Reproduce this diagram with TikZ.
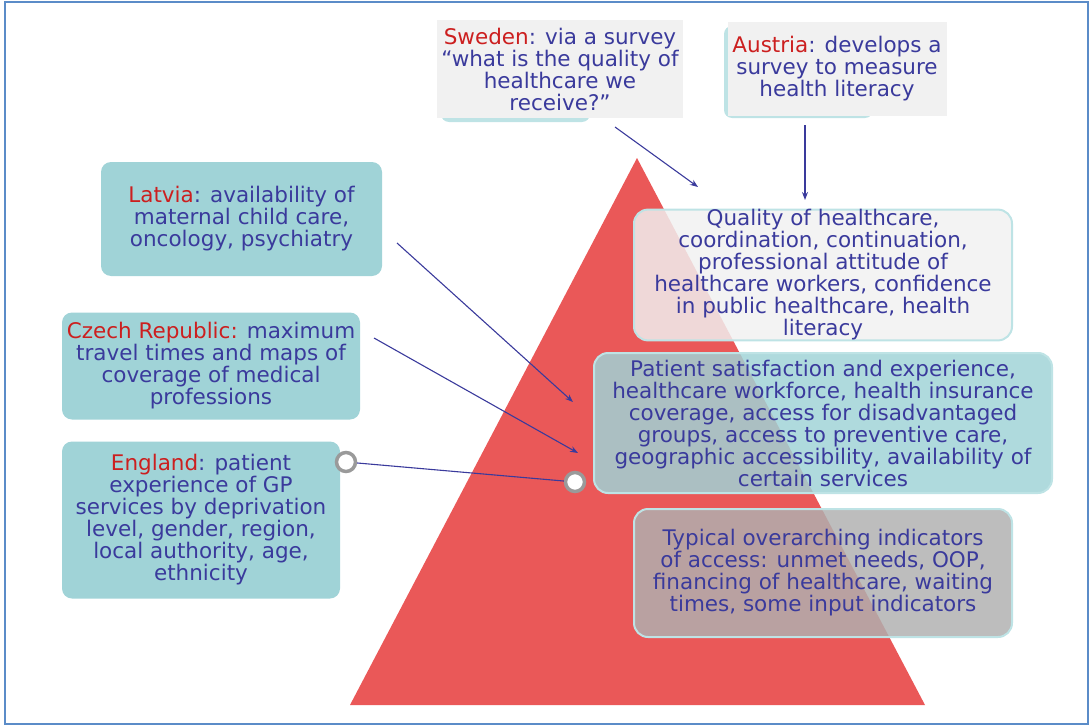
\documentclass[tikz,border=0pt]{standalone}
\usepackage{fontspec}
\setmainfont{DejaVu Sans}
\usetikzlibrary{arrows.meta}
\definecolor{pyrred}{HTML}{EA5858}
\definecolor{boxteal}{HTML}{A0D3D7}
\definecolor{rimteal}{HTML}{BEE3E5}
\definecolor{notegray}{HTML}{F1F1F1}
\definecolor{midgray}{HTML}{B0B0B0}
\definecolor{inkblue}{HTML}{3A3A9C}
\definecolor{cntred}{HTML}{CC1F1F}
\definecolor{framebl}{HTML}{5B8CC8}
\definecolor{ringgray}{HTML}{9A9A9A}

\newcommand{\cty}[1]{\textcolor{cntred}{#1}}

\begin{document}
\begin{tikzpicture}[
    x=1pt, y=-1pt,
    >={Stealth[length=8pt, width=6pt]},
    every node/.style={text=inkblue, font=\fontsize{21.5}{22}\selectfont,
      align=center, inner sep=0pt},
    countrybox/.style={fill=boxteal, rounded corners=10pt},
    notebox/.style={fill=notegray},
    tierbox/.style={draw=rimteal, line width=2pt, rounded corners=14pt,
      fill opacity=0.84, text opacity=1},
    link/.style={inkblue, line width=1.1pt},
    ring/.style={circle, draw=ringgray, fill=white, line width=3.5pt,
      minimum size=19pt},
  ]

  % Frame
  \useasboundingbox (0,0) rectangle (1090,725);
  \draw[framebl, line width=2pt] (5,2) rectangle (1088,724);

  % === Pyramid ===
  \fill[pyrred] (350,705) -- (637,158) -- (925,705) -- cycle;

  % === Tiers on the right ===
  \node[tierbox, fill=notegray, minimum width=378pt, minimum height=130pt]
    (quality) at (823,275)
    {Quality of healthcare,\\ coordination, continuation,\\
     professional attitude of\\ healthcare workers, confidence\\
     in public healthcare, health\\ literacy};
  \node[tierbox, fill=boxteal, minimum width=458pt, minimum height=140pt]
    (access) at (823,423)
    {Patient satisfaction and experience,\\ healthcare workforce, health insurance\\
     coverage, access for disadvantaged\\ groups, access to preventive care,\\
     geographic accessibility, availability of\\ certain services};
  \node[tierbox, fill=midgray, minimum width=378pt, minimum height=128pt]
    (typical) at (823,573)
    {Typical overarching indicators\\ of access: unmet needs, OOP,\\
     financing of healthcare, waiting\\ times, some input indicators};

  % === Country examples ===
  \fill[rimteal, rounded corners=8pt] (441,30) rectangle (590,122);
  \node[notebox, minimum width=246pt, minimum height=98pt] (sweden) at (560,69)
    {\cty{Sweden}: via a survey\\ “what is the quality of\\ healthcare we\\ receive?”};

  \fill[rimteal, rounded corners=8pt] (724,26) rectangle (873,118);
  \node[notebox, minimum width=219pt, minimum height=94pt] (austria) at (837,69)
    {\cty{Austria}: develops a\\ survey to measure\\ health literacy};

  \node[countrybox, minimum width=281pt, minimum height=114pt] (latvia) at (241.5,219)
    {\cty{Latvia}: availability of\\ maternal child care,\\ oncology, psychiatry};
  \node[countrybox, minimum width=298pt, minimum height=107pt] (czech) at (211,366)
    {\cty{Czech Republic:} maximum\\ travel times and maps of\\ coverage of medical\\ professions};
  \node[countrybox, minimum width=278pt, minimum height=157pt] (england) at (201,520)
    {\cty{England}: patient\\ experience of GP\\ services by deprivation\\
     level, gender, region,\\ local authority, age,\\ ethnicity};

  % === Pointers into the pyramid ===
  \coordinate (swedenTail) at (615,127);
  \coordinate (swedenTip) at (698,187);
  \coordinate (austriaTail) at (805,125);
  \coordinate (austriaTip) at (805,200);
  \coordinate (latviaTail) at (397,243);
  \coordinate (latviaTip) at (573,402);
  \coordinate (czechTail) at (374,338);
  \coordinate (czechTip) at (578,453);

  \draw[link, ->] (swedenTail) -- (swedenTip);
  \draw[link, ->] (austriaTail) -- (austriaTip);
  \draw[link, ->] (latviaTail) -- (latviaTip);
  \draw[link, ->] (czechTail) -- (czechTip);

  % England pin
  \node[ring] (ringL) at (346,462) {};
  \node[ring] (ringR) at (575,482) {};
  \draw[link] (ringL) -- (ringR);

\end{tikzpicture}
\end{document}
